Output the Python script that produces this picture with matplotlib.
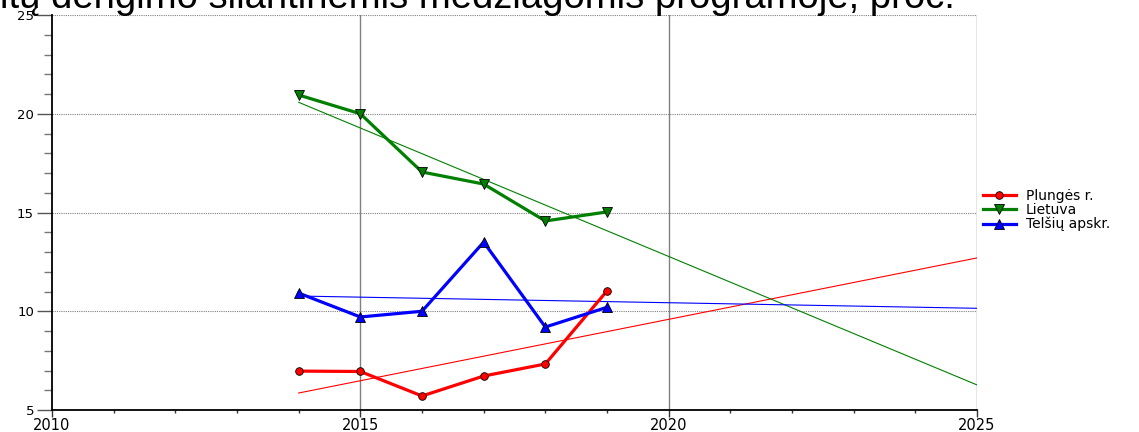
import matplotlib
matplotlib.use("Agg")
import matplotlib.pyplot as plt
from matplotlib.ticker import MultipleLocator

plt.rcParams['font.family'] = ['Liberation Sans', 'DejaVu Sans']

title_text = "itų dengimo silantinėmis medžiagomis programoje, proc."

years = [2014, 2015, 2016, 2017, 2018, 2019]
plunge = [6.97, 6.95, 5.71, 6.72, 7.33, 11.03]
lietuva = [20.95, 20.0, 17.05, 16.44, 14.57, 15.03]
telsiai = [10.92, 9.71, 10.0, 13.5, 9.2, 10.2]

trend_years = [2014, 2025]
plunge_trend = [5.86, 12.7]
lietuva_trend = [20.58, 6.27]
telsiai_trend = [10.77, 10.15]

labels = ["Plungės r.", "Lietuva", "Telšių apskr."]
colors = ["#ff0000", "#008000", "#0000ff"]
markers = ["o", "v", "^"]

fig = plt.figure(figsize=(11.39, 4.32), dpi=100)
ax = fig.add_axes([52/1139, 1-410/432, (977-52)/1139, (410-15)/432])

series = [plunge, lietuva, telsiai]
trends = [plunge_trend, lietuva_trend, telsiai_trend]
handles = []
for s, t, c, m, lab in zip(series, trends, colors, markers, labels):
    ax.plot(trend_years, t, color=c, lw=0.8, zorder=2)
    h, = ax.plot(years, s, color=c, lw=2.3, marker=m, markersize=5.5 if m == 'o' else 7,
                 markeredgecolor='black', markeredgewidth=0.6, label=lab, zorder=3)
    handles.append(h)

ax.set_xlim(2010, 2025)
ax.set_ylim(5, 25)
ax.xaxis.set_major_locator(MultipleLocator(5))
ax.xaxis.set_minor_locator(MultipleLocator(1))
ax.yaxis.set_major_locator(MultipleLocator(5))
ax.yaxis.set_minor_locator(MultipleLocator(1))

# grids
for xv in [2015, 2020, 2025]:
    ax.axvline(xv, color='#808080', lw=1.0, zorder=1)
for yv in [10, 15, 20, 25]:
    ax.axhline(yv, color='#808080', lw=0.8, ls=(0, (1, 1)), zorder=1)

for sp in ['top', 'right']:
    ax.spines[sp].set_visible(False)
ax.spines['left'].set_linewidth(1.3)
ax.spines['bottom'].set_linewidth(1.3)

ax.tick_params(axis='x', which='major', direction='out', length=5, width=1,
               color='#333333', labelsize=10.5, pad=1)
ax.tick_params(axis='x', which='minor', direction='out', length=2.5, width=1,
               color='#333333')
ax.tick_params(axis='y', which='major', direction='out', length=11, width=1,
               color='#555555', labelsize=9.5, pad=2)
ax.tick_params(axis='y', which='minor', direction='out', length=6, width=1,
               color='#777777')
for lbl in ax.get_xticklabels() + ax.get_yticklabels():
    lbl.set_family(['DejaVu Sans'])

ax.legend(handles=handles, loc='center left', bbox_to_anchor=(1.006, 0.506),
          frameon=False, prop={'family': 'DejaVu Sans', 'size': 10},
          handlelength=2.4, handletextpad=0.7,
          labelspacing=0.0, borderaxespad=0, borderpad=0)

fig.text(0.0, 1 - 8/432, title_text, fontsize=27.5, ha='left', va='baseline')

fig.savefig("out.png", dpi=100)
